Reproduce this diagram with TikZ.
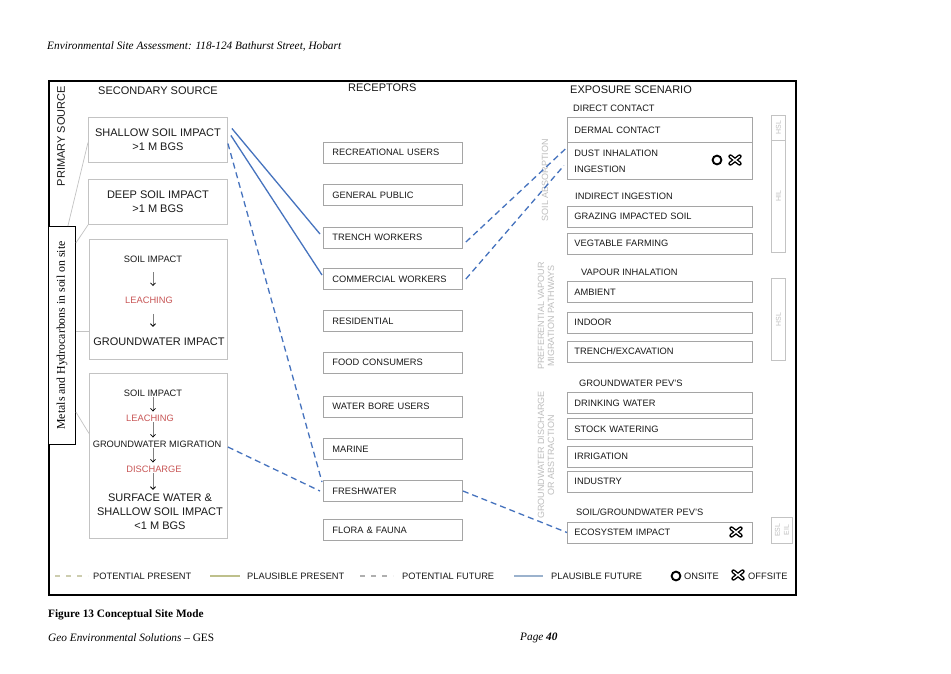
\documentclass[tikz,border=0pt]{standalone}
\usepackage{fontspec}
\setmainfont{Liberation Serif}
\setsansfont{Liberation Sans}
\usetikzlibrary{arrows.meta,calc}
\definecolor{bl}{RGB}{70,115,190}
\definecolor{txt}{RGB}{25,25,25}
\definecolor{lg}{RGB}{195,195,195}
\definecolor{bg}{RGB}{165,165,165}
\definecolor{faint}{RGB}{190,190,190}
\definecolor{rd}{RGB}{200,85,85}
\definecolor{ppres}{RGB}{205,205,175}
\definecolor{plpres}{RGB}{190,192,140}
\definecolor{pfutc}{RGB}{175,175,175}
\definecolor{plfut}{RGB}{155,178,205}
\newcommand\fsz[2]{\fontsize{#1}{#2}\selectfont}
\tikzset{
  every node/.style={inner sep=0pt, text=txt},
  lbox/.style={draw=lg, line width=0.9pt, minimum width=139pt, align=center, font=\sffamily\fsz{11}{14}},
  rbox/.style={draw=bg, line width=0.9pt, minimum height=21pt, text width=121pt, inner xsep=9pt, align=left, anchor=west, font=\sffamily\fsz{9.3}{11}},
  ebox/.style={draw=bg, line width=0.9pt, minimum height=21pt, text width=171pt, inner xsep=7pt, align=left, anchor=west, font=\sffamily\fsz{9.3}{16}},
  hdr/.style={anchor=west, font=\sffamily\fsz{11}{13}},
  sub/.style={anchor=west, font=\sffamily\fsz{9.3}{11}},
  small/.style={font=\sffamily\fsz{9.3}{11}},
  big/.style={font=\sffamily\fsz{11}{14}, align=center},
  flow/.style={draw=gray, line width=0.6pt, -{Straight Barb[length=2.6pt,width=5pt,color=black,line width=0.8pt]}},
  faintlab/.style={font=\sffamily\fsz{9}{10}, text=faint, align=center, rotate=90},
  sidebox/.style={draw=lg, line width=0.7pt, anchor=north west},
  sidetxt/.style={font=\sffamily\fsz{7}{8}, text=faint, rotate=90},
  pfut/.style={draw=bl, line width=1.3pt},
  potfut/.style={draw=bl, line width=1.3pt, dash pattern=on 6pt off 4pt},
  conn/.style={draw=lg, line width=0.7pt},
  leg/.style={anchor=west, font=\sffamily\fsz{9.3}{11}},
  offx/.pic={
    \draw[black, line width=4.2pt, line cap=round] (-4.6,-3.6)--(4.6,3.6) (-4.6,3.6)--(4.6,-3.6);
    \draw[white, line width=1.4pt, line cap=round] (-4.4,-3.4)--(4.4,3.4) (-4.4,3.4)--(4.4,-3.4);
  }
}
\begin{document}
\begin{tikzpicture}[x=1pt,y=-1pt]
\useasboundingbox (0,0) rectangle (951,673);
\fill[white] (0,0) rectangle (951,673);

% page header / footer
\node[anchor=west, font=\fsz{11.3}{13}\itshape, text=black] (title) at (47,46) {Environmental Site Assessment: 118-124 Bathurst Street, Hobart};
\node[anchor=west, font=\fsz{11.3}{13}\bfseries, text=black] (fig) at (48,615) {Figure 13 Conceptual Site Mode};
\node[anchor=west, font=\fsz{11.3}{13}, text=black] (ges) at (48,638) {\itshape Geo Environmental Solutions \upshape -- GES};
\node[anchor=west, font=\fsz{11.3}{13}, text=black] (page) at (520,638) {\itshape Page \textbf{40}};

% frame
\draw[line width=1.1pt, black] (49,81) rectangle (796,595);

% headers
\node[font=\sffamily\fsz{11}{13}, rotate=90] (ps) at (61,136) {PRIMARY SOURCE};
\node[hdr] (hsec) at (98,91) {SECONDARY SOURCE};
\node[hdr] (hrec) at (348,88) {RECEPTORS};
\node[hdr] (hexp) at (570,90) {EXPOSURE SCENARIO};

% primary source box
\node[draw=black, fill=white, line width=0.9pt, minimum width=27pt, minimum height=218pt, anchor=north west] (met) at (48,226) {};
\node[rotate=90, font=\fsz{11.8}{13}, text=black] (mettxt) at (met.center) {Metals and Hydrocarbons in soil on site};

% secondary source boxes
\node[lbox, minimum height=45pt, anchor=north west] (sh) at (88,117) {SHALLOW SOIL IMPACT\\>1 M BGS};
\node[lbox, minimum height=45pt, anchor=north west] (dp) at (88,179) {DEEP SOIL IMPACT\\>1 M BGS};
\node[lbox, minimum width=138pt, minimum height=120pt, anchor=north west] (b3) at (89,239) {};
\node[lbox, minimum width=138pt, minimum height=165pt, anchor=north west] (b4) at (89,373) {};

\node[small] (s3a) at (153,259) {SOIL IMPACT};
\node[small, text=rd] (s3b) at (149,300.5) {LEACHING};
\node[big] (s3c) at (159,342) {GROUNDWATER IMPACT};
\draw[flow, shorten <=10pt, shorten >=11pt] (s3a.south) -- (s3a.south |- s3b.north);
\draw[flow, shorten <=10pt, shorten >=11pt] (s3a.south |- s3b.south) -- (s3a.south |- s3c.north);

\node[small] (s4a) at (153,393) {SOIL IMPACT};
\node[small, text=rd] (s4b) at (150,418) {LEACHING};
\node[small] (s4c) at (157,444) {GROUNDWATER MIGRATION};
\node[small, text=rd] (s4d) at (154,469) {DISCHARGE};
\node[big] (s4e) at (160,512) {SURFACE WATER \&\\SHALLOW SOIL IMPACT\\<1 M BGS};
\draw[flow, shorten <=0.7pt, shorten >=3pt] (s4a.south) -- (s4a.south |- s4b.north);
\draw[flow, shorten <=0.7pt, shorten >=3pt] (s4a.south |- s4b.south) -- (s4a.south |- s4c.north);
\draw[flow, shorten <=0.7pt, shorten >=3pt] (s4a.south |- s4c.south) -- (s4a.south |- s4d.north);
\draw[flow, shorten <=0.7pt, shorten >=4pt] (s4a.south |- s4d.south) -- (s4a.south |- s4e.north);

% connectors primary -> secondary
\draw[conn] ([xshift=-8pt]met.north east) -- ([yshift=-2.5pt]sh.west);
\draw[conn] ([yshift=-17pt]met.north east) -- (dp.south west);
\draw[conn] (met.east |- 0,331) -- (b3.west |- 0,331);
\draw[conn] ([yshift=-186pt]met.north east) -- ([yshift=22.5pt]b4.west);

% receptors
\node[rbox] (rec) at (323,152.5) {RECREATIONAL USERS};
\node[rbox] (gp) at (323,195) {GENERAL PUBLIC};
\node[rbox] (tw) at (323,237.5) {TRENCH WORKERS};
\node[rbox] (cw) at (323,279) {COMMERCIAL WORKERS};
\node[rbox] (res) at (323,321) {RESIDENTIAL};
\node[rbox] (food) at (323,362.5) {FOOD CONSUMERS};
\node[rbox] (wb) at (323,406.5) {WATER BORE USERS};
\node[rbox] (mar) at (323,449) {MARINE};
\node[rbox] (fw) at (323,491) {FRESHWATER};
\node[rbox] (ff) at (323,530) {FLORA \& FAUNA};

% exposure scenario
\node[sub] (dc) at (573,108) {DIRECT CONTACT};
\node[ebox, minimum height=25pt, anchor=north west] (derm) at (567,117) {DERMAL CONTACT};
\node[ebox, minimum height=37pt, anchor=north west] (dust) at (567,142) {DUST INHALATION\\INGESTION};
\draw[black, line width=1.9pt] (717,160) circle (4.4pt);
\pic at (735,160) {offx};
\node[sub] (ii) at (575,196) {INDIRECT INGESTION};
\node[ebox] (graz) at (567,216.5) {GRAZING IMPACTED SOIL};
\node[ebox] (veg) at (567,243.5) {VEGTABLE FARMING};
\node[sub] (vi) at (581,272) {VAPOUR INHALATION};
\node[ebox] (amb) at (567,292) {AMBIENT};
\node[ebox] (indoor) at (567,322.5) {INDOOR};
\node[ebox] (trx) at (567,351.5) {TRENCH/EXCAVATION};
\node[sub] (gwp) at (579,383) {GROUNDWATER PEV'S};
\node[ebox] (dw) at (567,403) {DRINKING WATER};
\node[ebox] (sw) at (567,429) {STOCK WATERING};
\node[ebox] (irr) at (567,456.5) {IRRIGATION};
\node[ebox] (indu) at (567,481.5) {INDUSTRY};
\node[sub] (sgp) at (576,512) {SOIL/GROUNDWATER PEV'S};
\node[ebox] (eco) at (567,532.5) {ECOSYSTEM IMPACT};
\pic at (736,532) {offx};

% faint pathway labels
\node[faintlab] (sa) at (545,180) {SOIL ABSORPTION};
\node[faintlab] (pv) at (546,316) {PREFERENTIAL VAPOUR\\MIGRATION PATHWAYS};
\node[faintlab] (gd) at (546,455) {GROUNDWATER DISCHARGE\\OR ABSTRACTION};

% side guideline boxes
\node[sidebox, minimum width=14pt, minimum height=25pt] (hsla) at (771,115) {};
\node[sidetxt] at (hsla.center) {HSL};
\node[sidebox, minimum width=14pt, minimum height=112pt] (hil) at (771,140) {};
\node[sidetxt] at (hil.center) {HIL};
\node[sidebox, minimum width=14pt, minimum height=82pt] (hslb) at (771,278) {};
\node[sidetxt] at (hslb.center) {HSL};
\node[sidebox, minimum width=21pt, minimum height=26pt] (esl) at (771,517) {};
\node[sidetxt] at ([xshift=-4.5pt]esl.center) {ESL};
\node[sidetxt] at ([xshift=4.5pt]esl.center) {EIL};

% pathways
\draw[pfut] ([xshift=4pt,yshift=11.5pt]sh.east) -- ([xshift=-3pt,yshift=3.5pt]tw.west);
\draw[pfut] ([xshift=3pt,yshift=4.5pt]sh.east) -- ([xshift=-1pt,yshift=4pt]cw.west);
\draw[potfut] ([yshift=-3.5pt]sh.east) -- ([xshift=-1pt,yshift=9pt]fw.west);
\draw[potfut] ($(b4.east |- s4c)+(0,3)$) -- ([xshift=-3pt]fw.west);
\draw[potfut] (fw.east) -- (eco.west);
\draw[potfut] ([xshift=3pt,yshift=-4.5pt]tw.east) -- ([yshift=13.5pt]dust.west);
\draw[potfut] ([xshift=3pt]cw.east) -- ([xshift=-3pt,yshift=-4.5pt]dust.west);

% legend
\draw[ppres, line width=1.2pt, dash pattern=on 5pt off 6pt] (55,576) -- (88,576);
\node[leg] (l1) at (93,576) {POTENTIAL PRESENT};
\draw[plpres, line width=1.2pt] (210,576) -- (240,576);
\node[leg] (l2) at (247,576) {PLAUSIBLE PRESENT};
\draw[pfutc, line width=1.2pt, dash pattern=on 5pt off 6pt] (360,576) -- (393,576);
\node[leg] (l3) at (402,576) {POTENTIAL FUTURE};
\draw[plfut, line width=1.2pt] (514,576) -- (543,576);
\node[leg] (l4) at (551,576) {PLAUSIBLE FUTURE};
\draw[black, line width=1.9pt] (676,576) circle (4.4pt);
\node[leg] (l5) at (684,576) {ONSITE};
\pic at (738,575) {offx};
\node[leg] (l6) at (748,576) {OFFSITE};
\end{tikzpicture}
\end{document}
